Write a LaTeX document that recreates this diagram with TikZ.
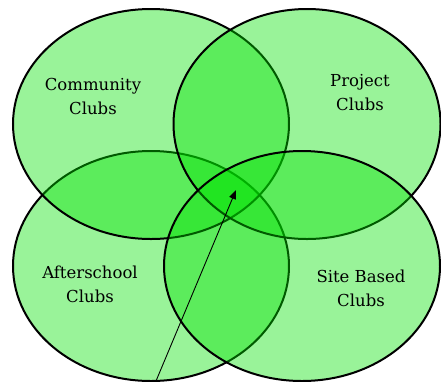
\documentclass[tikz,border=0pt]{standalone}
\usepackage{fontspec}
\setmainfont{DejaVu Serif}
\usepackage{tikz}
\usetikzlibrary{shapes.geometric, arrows.meta}

\definecolor{clubgreen}{RGB}{0,225,0}

\begin{document}
\begin{tikzpicture}[
  x=1pt, y=-1pt,
  font=\fontsize{16.5}{24}\selectfont,
  every node/.style={align=center},
  club/.style={ellipse, draw=black, line width=2pt, fill=clubgreen,
               fill opacity=0.4, inner sep=0pt, minimum width=276pt,
               minimum height=230pt},
  clubtext/.style={text=black, text opacity=1},
  arrow/.style={-{Triangle[length=9pt, width=7pt]}, line width=0.9pt}
]
\useasboundingbox (0,0) rectangle (441,381);

% the four clubs, lowest layer first
\node[club] (afterschool) at (151,266) {};
\node[club] (community)   at (151,124) {};
\node[club, minimum width=267pt] (project) at (307,124) {};
\node[club] (sitebased)   at (302,266) {};

\node[clubtext] (commtext)  at (93,96)   {Community\\Clubs};
\node[clubtext] (projtext)  at (360,93)  {Project\\Clubs};
\node[clubtext] (aftertext) at (90,284)  {Afterschool\\Clubs};
\node[clubtext] (sitetext)  at (361,288) {Site Based\\Clubs};

\coordinate (tail) at (156,381);
\coordinate (core) at (236,190);
\draw[arrow] (tail) -- (core);

\end{tikzpicture}
\end{document}
